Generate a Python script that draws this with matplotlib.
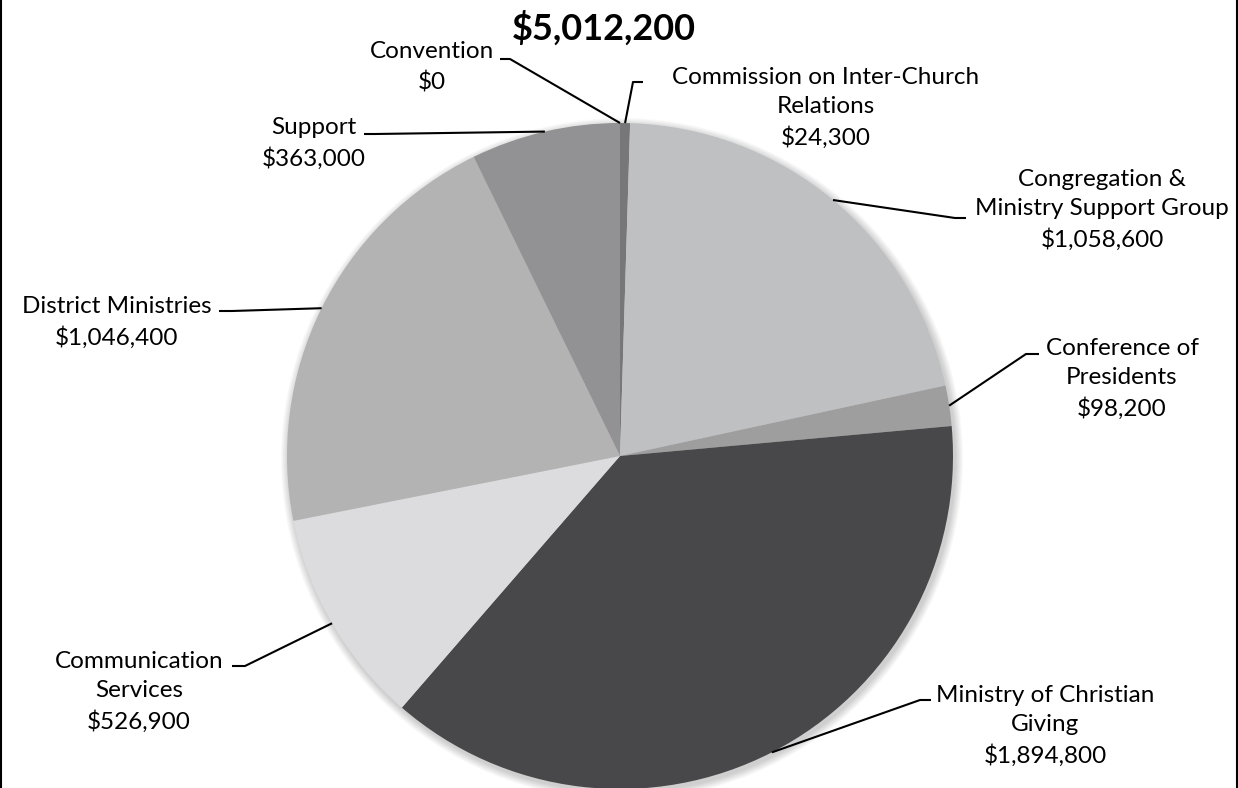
import matplotlib.pyplot as plt
from matplotlib.patches import Circle
from matplotlib.lines import Line2D
import numpy as np

# Budget data (clockwise from the top)
names = ['Commission on Inter-Church\nRelations', 'Congregation &\nMinistry Support Group',
         'Conference of\nPresidents', 'Ministry of Christian\nGiving', 'Communication\nServices',
         'District Ministries', 'Support', 'Convention']
values = [24300, 1058600, 98200, 1894800, 526900, 1046400, 363000, 0]
colors = ['#77777a', '#bfc0c2', '#9e9e9f', '#48484a', '#dcdcde', '#b3b3b4', '#929294', '#7a7a7c']
total_text = '$5,012,200'

# label layout in pixels (text centre, elbow, tail of leader)
text_pos = [(826, 108), (1102, 210), (1122, 379), (1045, 726), (139, 692), (117, 322), (314, 143), (432, 67)]
elbow = [(633, 82), (955, 218), (1026, 354), (920, 700), (245, 666), (232, 311), (375, 134), (510, 59)]
tail = [(643, 82), (966, 218), (1039, 354), (931, 700), (232, 666), (219, 311), (364, 134), (500, 59)]

W, H = 1238, 788
cx, cy, r = 620, 456, 333

fig = plt.figure(figsize=(W / 100, H / 100), dpi=100)
ax = fig.add_axes([0, 0, 1, 1])

# soft shadow
for k in range(1, 9):
    ax.add_patch(Circle((cx + 2, cy + 3), r + k, color='black', alpha=0.025, lw=0, zorder=0))

wedges, _ = ax.pie(values, colors=colors, startangle=-90, counterclock=True,
                   center=(cx, cy), radius=r, frame=True,
                   wedgeprops=dict(linewidth=0, zorder=2))
ax.set_xlim(0, W)
ax.set_ylim(H, 0)
ax.set_aspect('equal')
ax.axis('off')

font = 'Lato'
for w, name, v, tp, el, tl in zip(wedges, names, values, text_pos, elbow, tail):
    mid = np.deg2rad((w.theta1 + w.theta2) / 2)
    ex, ey = cx + r * np.cos(mid), cy + r * np.sin(mid)
    ax.plot([ex, el[0], tl[0]], [ey, el[1], tl[1]], color='black', lw=1.5, zorder=3,
            solid_capstyle='butt')
    ax.text(tp[0], tp[1], '{}\n${:,}'.format(name, v), ha='center', va='center',
            fontsize=17.5, family=font, linespacing=1.5, zorder=4)

ax.text(604, 28, total_text, ha='center', va='center', fontsize=26, fontweight='bold',
        family=font)

# side borders
fig.add_artist(Line2D([0.001, 0.001], [0, 1], color='black', lw=1.5, transform=fig.transFigure))
fig.add_artist(Line2D([0.999, 0.999], [0, 1], color='black', lw=1.5, transform=fig.transFigure))

fig.savefig('out.png', dpi=100)
